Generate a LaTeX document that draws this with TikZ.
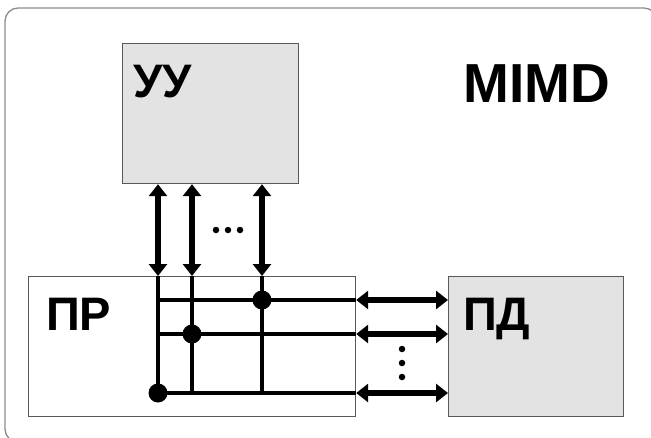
\documentclass[tikz,border=0pt]{standalone}
\usepackage{fontspec}
\setmainfont{Liberation Sans}
\usetikzlibrary{arrows.meta}
\begin{document}
\begin{tikzpicture}[x=1pt,y=-1pt,
  box/.style={draw=black!65,line width=1.2pt,inner sep=0pt,anchor=north west},
  grayfill/.style={fill=black!11},
  lbl/.style={font=\fontsize{47}{47}\selectfont\bfseries,anchor=base west,inner sep=0pt},
  bus/.style={line width=4.2pt},
  link/.style={line width=5.6pt,{Triangle[width=18pt,length=12pt]}-{Triangle[width=18pt,length=12pt]}},
  jdot/.style={circle,fill=black,minimum size=19pt,inner sep=0pt},
  sdot/.style={circle,fill=black,minimum size=6.5pt,inner sep=0pt}]
\useasboundingbox (0,0) rectangle (651,437);
% outer frame
\draw[draw=black!45,line width=1.3pt,rounded corners=13pt] (5,8) rectangle (657,442);
% boxes
\node[box,grayfill,minimum width=176pt,minimum height=140pt] (uu) at (122,43) {};
\node[box,fill=white,minimum width=327pt,minimum height=140pt] (pr) at (28,276) {};
\node[box,grayfill,minimum width=175pt,minimum height=140pt] (pd) at (448,276) {};
% labels
\node[lbl] (uut) at (133,97) {УУ};
\node[lbl] (prt) at (46,330) {ПР};
\node[lbl] (pdt) at (463,330) {ПД};
\node[font=\fontsize{55}{55}\selectfont\bfseries,inner sep=0pt,anchor=base] (title) at (537,102) {MIMD};
% bus coordinates
\coordinate (v1) at (158,0);
\coordinate (v2) at (192,0);
\coordinate (v3) at (262,0);
\coordinate (h1) at (0,300);
\coordinate (h2) at (0,334);
\coordinate (h3) at (0,393);
% internal bus lines
\draw[bus] (v1 |- pr.north) -- (v1 |- h3);
\draw[bus] (v2 |- pr.north) -- (v2 |- h3);
\draw[bus] (v3 |- pr.north) -- (v3 |- h3);
\draw[bus] (v1 |- h1) -- (pr.east |- h1);
\draw[bus] (v1 |- h2) -- (pr.east |- h2);
\draw[bus] (v1 |- h3) -- (pr.east |- h3);
% junctions
\node[jdot] (j1) at (v3 |- h1) {};
\node[jdot] (j2) at (v2 |- h2) {};
\node[jdot] (j3) at (v1 |- h3) {};
% vertical links
\draw[link] (v1 |- uu.south) -- (v1 |- pr.north);
\draw[link] (v2 |- uu.south) -- (v2 |- pr.north);
\draw[link] (v3 |- uu.south) -- (v3 |- pr.north);
% horizontal links
\draw[link] (pr.east |- h1) -- (pd.west |- h1);
\draw[link] (pr.east |- h2) -- (pd.west |- h2);
\draw[link] (pr.east |- h3) -- (pd.west |- h3);
% ellipsis dots
\node[sdot] (d1) at (216,230) {};
\node[sdot] (d2) at (228,230) {};
\node[sdot] (d3) at (240,230) {};
\node[sdot] (e1) at (402,349) {};
\node[sdot] (e2) at (402,363) {};
\node[sdot] (e3) at (402,377) {};
\end{tikzpicture}
\end{document}
